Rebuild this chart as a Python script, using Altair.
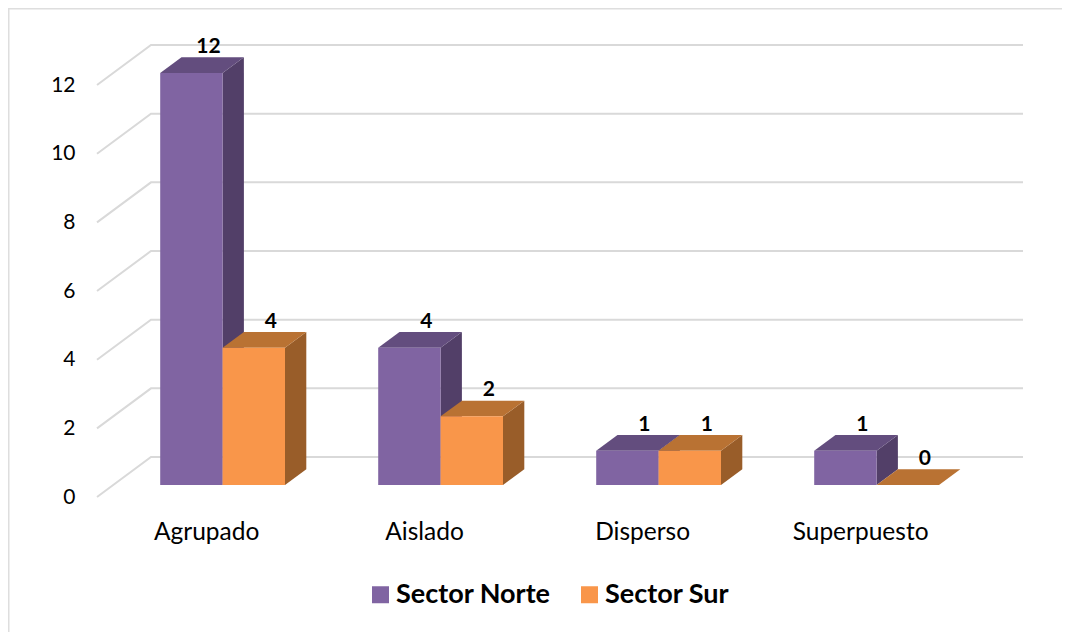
import altair as alt
import pandas as pd

categories = ["Agrupado", "Aislado", "Disperso", "Superpuesto"]
norte = [12, 4, 1, 1]
sur = [4, 2, 1, 0]
ticks = [0, 2, 4, 6, 8, 10, 12]
series_names = ["Sector Norte", "Sector Sur"]

FONT = "Lato"
W, H = 1054, 624
PX_Y = 34.33   # px per unit
PX_X = 218.0   # px per category
X_DOM = [-214.6 / PX_X, (W - 214.6) / PX_X]
Y_DOM = [(477 - H) / PX_Y, 477 / PX_Y]
xs = alt.Scale(domain=X_DOM, range=[0, W], nice=False, zero=False)
ys = alt.Scale(domain=Y_DOM, range=[H, 0], nice=False, zero=False)
BW = 62.4 / PX_X
DX = 21.3 / PX_X
DY = 15.7 / PX_Y
WALL_FRONT_X = (97 - 222.6) / PX_X
WALL_BACK_X = (151 - 222.6) / PX_X
WALL_END_X = (1023 - 222.6) / PX_X
WALL_FRONT_Y = -12 / PX_Y
WALL_BACK_Y = 28 / PX_Y

COL = {
    "Sector Norte": ("#8064A2", "#634D7E", "#523F68"),
    "Sector Sur": ("#F9964A", "#B97233", "#995D29"),
}

front, tops, sides, labels = [], [], [], []
for s_i, (name, vals) in enumerate(zip(series_names, [norte, sur])):
    for i, (c, v) in enumerate(zip(categories, vals)):
        x0 = i + (s_i - 1) * BW
        x1 = x0 + BW
        front.append(dict(series=name, cat=c, x=x0, x2=x1, y=v, y2=0))
        for px, a, b in [(x0, v, v), (x0 + DX, v, v + DY), (x1, v, v + DY), (x1 + DX, v + DY, v + DY)]:
            tops.append(dict(series=name, cat=c, x=px, yb=a, yt=b))
        for px, a, b in [(x1, 0, v), (x1 + DX, DY, v + DY)]:
            sides.append(dict(series=name, cat=c, x=px, yb=a, yt=b))
        labels.append(dict(series=name, x=(x0 + x1) / 2 + 17 / PX_X, y=v + 26 / PX_Y, t=str(v)))

grid = []
for t in ticks:
    for k, (px, py) in enumerate([(WALL_FRONT_X, t + WALL_FRONT_Y), (WALL_BACK_X, t + WALL_BACK_Y), (WALL_END_X, t + WALL_BACK_Y)]):
        grid.append(dict(t=t, k=k, x=px, y=py))

y_axis = alt.Axis(
    values=ticks, title=None, domain=False, ticks=False, grid=False,
    labelFont=FONT, labelFontSize=21, labelColor="#000000",
    labelOffset=12, labelPadding=0, offset=-67, labelAlign="right", labelBaseline="middle",
)
X = lambda f="x": alt.X(f"{f}:Q", scale=xs, axis=None)
Y = lambda f="y": alt.Y(f"{f}:Q", scale=ys, axis=y_axis, title=None)

frame_df = pd.DataFrame({
    "k": [0, 1, 2],
    "x": [X_DOM[0] + 0.75 / PX_X, X_DOM[0] + 0.75 / PX_X, X_DOM[1]],
    "y": [Y_DOM[0], Y_DOM[1] - 0.75 / PX_Y, Y_DOM[1] - 0.75 / PX_Y],
})
frame = alt.Chart(frame_df).mark_line(color="#dedede", strokeWidth=1.5).encode(
    x=X(), y=Y(), order="k:O")

grid_layer = alt.Chart(pd.DataFrame(grid)).mark_line(color="#d9d9d9", strokeWidth=2).encode(
    x=X(), y=Y(), detail="t:N", order="k:O",
)


def faces(records, name, idx):
    d = pd.DataFrame(records)
    d = d[d.series == name].reset_index(drop=True)
    out = []
    for c in categories:
        dc = d[d.cat == c].reset_index(drop=True)
        out.append(alt.Chart(dc).mark_area(color=COL[name][idx]).encode(
            x=X(), y=Y("yb"), y2="yt:Q"))
    return out


front_layer = alt.Chart(pd.DataFrame(front)).mark_rect().encode(
    x=X(), x2="x2:Q", y=Y(), y2="y2:Q",
    color=alt.Color("series:N", scale=alt.Scale(domain=series_names, range=[COL[n][0] for n in series_names]),
                    legend=alt.Legend(
                        title=None, orient="none", legendX=359, legendY=573, direction="horizontal",
                        symbolType="square", symbolSize=289, symbolStrokeWidth=0, symbolOpacity=1,
                        labelFont=FONT, labelFontSize=27, labelFontWeight="bold", labelColor="#000000",
                        labelOffset=2, columnPadding=25, padding=0,
                    )),
)

val_labels = alt.Chart(pd.DataFrame(labels)).mark_text(
    font=FONT, fontSize=21, fontWeight="bold", color="#000000", baseline="middle", align="center"
).encode(x=X(), y=Y(), text="t:N")

cat_labels = alt.Chart(pd.DataFrame({
    "x": [i - 16 / PX_X for i in range(len(categories))],
    "y": [(485 - 533) / PX_Y] * len(categories),
    "t": categories,
})).mark_text(font=FONT, fontSize=24.5, color="#000000", baseline="middle", align="center").encode(
    x=X(), y=Y(), text="t:N")

chart = alt.layer(
    frame, grid_layer,
    *faces(sides, "Sector Norte", 2), *faces(tops, "Sector Norte", 1),
    *faces(sides, "Sector Sur", 2), *faces(tops, "Sector Sur", 1),
    front_layer, val_labels, cat_labels,
).properties(
    width=W, height=H, padding=0, background="#ffffff", autosize=alt.AutoSizeParams(type="none")
).configure_view(stroke=None)

chart.save("out.html", embed_options={"renderer": "svg", "actions": False})
